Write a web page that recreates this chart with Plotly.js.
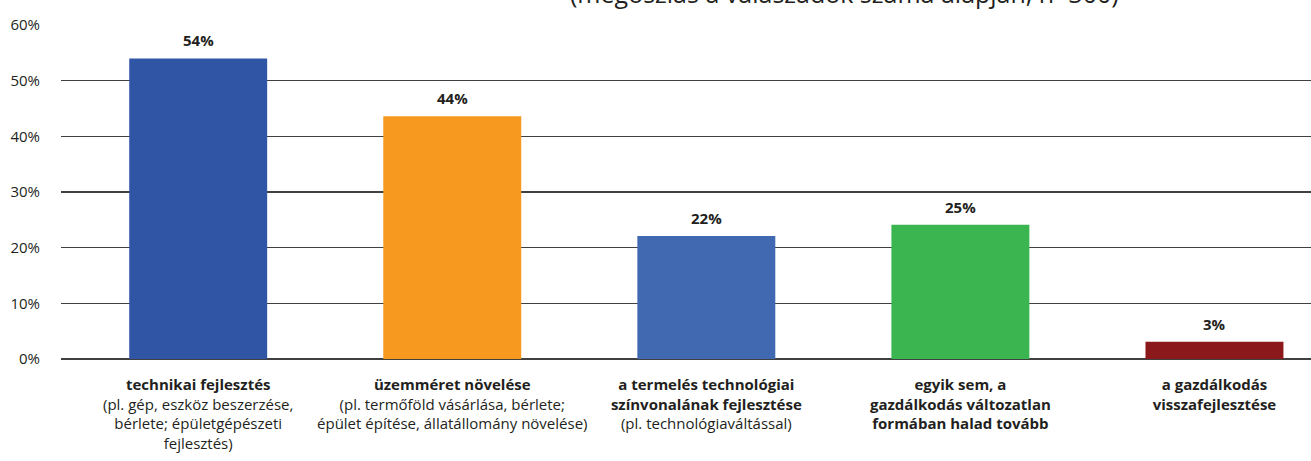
<!DOCTYPE html>
<html>
<head>
<meta charset="utf-8">
<script src="https://cdn.plot.ly/plotly-3.0.1.min.js"></script>
<style>html,body{margin:0;padding:0;background:#fff;}#chart{width:1311px;height:461px;}</style>
</head>
<body>
<div id="chart"></div>
<script>
const categories = ["c1", "c2", "c3", "c4", "c5"];
const tickLabels = [
  "<b>technikai fejlesztés</b><br>(pl. gép, eszköz beszerzése,<br>bérlete; épületgépészeti<br>fejlesztés)",
  "<b>üzemméret növelése</b><br>(pl. termőföld vásárlása, bérlete;<br>épület építése, állatállomány növelése)",
  "<b>a termelés technológiai<br>színvonalának fejlesztése</b><br>(pl. technológiaváltással)",
  "<b>egyik sem, a<br>gazdálkodás változatlan<br>formában halad tovább</b>",
  "<b>a gazdálkodás<br>visszafejlesztése</b>"
];
const values = [54.0, 43.6, 22.1, 24.1, 3.1];
const valueLabels = ["54%", "44%", "22%", "25%", "3%"];
const barColors = ["#3155A5", "#F7991F", "#4169B1", "#3AB54F", "#8B181B"];
const yTickVals = [0, 10, 20, 30, 40, 50, 60];
const yTickText = ["0%", "10%", "20%", "30%", "40%", "50%", "60%"];
const titleText = "(megoszlás a válaszadók száma alapján, n=300)";

const font = "'Open Sans', Lato, sans-serif";
const ink = "#231F20";

const annotations = categories.map((c, i) => ({
  x: c, y: values[i], xref: "x", yref: "y",
  text: "<b>" + valueLabels[i] + "</b>",
  showarrow: false, yanchor: "bottom", xanchor: "center", yshift: 6,
  font: {family: font, size: 15, color: ink}
}));
annotations.push({
  x: 0.627, y: 1, xref: "paper", yref: "paper",
  text: titleText, showarrow: false, xanchor: "center", yanchor: "bottom", yshift: 13,
  font: {family: font, size: 25, color: ink}
});

Plotly.newPlot("chart", [{
  type: "bar",
  x: categories,
  y: values,
  marker: {color: barColors},
  width: 0.543,
  hoverinfo: "skip"
}], {
  width: 1311, height: 461,
  margin: {l: 61, r: 0, t: 25, b: 102},
  paper_bgcolor: "#fff", plot_bgcolor: "#fff",
  showlegend: false,
  font: {family: font, size: 15, color: ink},
  annotations: annotations,
  xaxis: {
    type: "category",
    range: [-0.54, 4.38],
    tickvals: categories,
    ticktext: tickLabels,
    showgrid: false, zeroline: false, showline: false,
    ticks: "outside", ticklen: 12, tickcolor: "rgba(0,0,0,0)",
    tickfont: {family: font, size: 15, color: ink},
    fixedrange: true
  },
  yaxis: {
    range: [0, 60],
    tickvals: yTickVals,
    ticktext: yTickText,
    showgrid: true, gridcolor: "#404040", gridwidth: 1.5,
    zeroline: true, zerolinecolor: "#404040", zerolinewidth: 1.5,
    showline: false,
    ticks: "outside", ticklen: 17, tickcolor: "rgba(0,0,0,0)",
    tickfont: {family: font, size: 15, color: ink},
    fixedrange: true
  }
}, {displayModeBar: false, staticPlot: true});
</script>
</body>
</html>
